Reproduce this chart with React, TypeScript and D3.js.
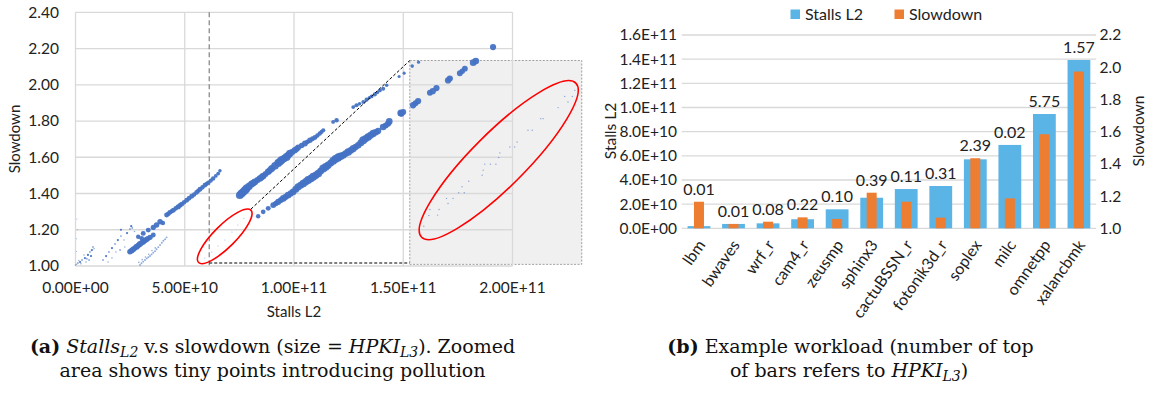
import React from "react";
import * as d3 from "d3";

// ---------- Left chart: Stalls L2 vs slowdown, bubble size = HPKI L3 ----------
// [stallsL2, slowdown, hpkiL3]
const originCluster: [number, number, number][] = [
  [0.0e10, 1.006, 0.1], [0.11e10, 1.017, 0.15], [0.21e10, 1.022, 0.2], [0.3e10, 1.033, 0.15],
  [0.43e10, 1.044, 0.2], [0.48e10, 1.022, 0.1], [0.57e10, 1.061, 0.2], [0.66e10, 1.077, 0.15],
  [0.75e10, 1.088, 0.2], [0.8e10, 1.105, 0.15], [0.39e10, 1.061, 0.1], [0.62e10, 1.033, 0.15],
  [0.71e10, 1.055, 0.2], [0.05e10, 1.01, 0.1], [0.25e10, 1.012, 0.1], [0.52e10, 1.04, 0.15],
  [0.85e10, 1.095, 0.1], [0.15e10, 1.03, 0.08], [0.05e10, 1.08, 0.02], [0.05e10, 1.15, 0.02],
  [0.08e10, 1.2, 0.02], [0.06e10, 1.26, 0.02],
];
const midScatter: [number, number, number][] = [
  [1.26e10, 1.033, 0.15], [1.4e10, 1.055, 0.2], [1.53e10, 1.077, 0.15], [1.67e10, 1.099, 0.2],
  [1.81e10, 1.121, 0.15], [1.94e10, 1.143, 0.2], [2.08e10, 1.165, 0.15], [2.22e10, 1.143, 0.1],
  [2.36e10, 1.182, 0.2], [2.49e10, 1.204, 0.15], [1.49e10, 1.022, 0.1], [1.67e10, 1.044, 0.1],
  [1.85e10, 1.077, 0.1], [2.04e10, 1.088, 0.15], [2.26e10, 1.105, 0.1], [2.6e10, 1.21, 0.15],
  [2.7e10, 1.19, 0.1], [2.08e10, 1.2, 0.2], [2.55e10, 1.22, 0.2],
];
const mediumBand: [number, number, number][] = [
  [2.49e10, 1.079, 1.2], [2.57e10, 1.085, 1.4], [2.64e10, 1.092, 1.4], [2.72e10, 1.099, 1.2],
  [2.8e10, 1.106, 1.5], [2.88e10, 1.114, 1.3], [2.95e10, 1.121, 1.5], [3.03e10, 1.128, 1.2],
  [3.1e10, 1.134, 1.4], [3.18e10, 1.141, 1.2], [3.26e10, 1.147, 1.3], [3.33e10, 1.152, 1.0],
  [3.41e10, 1.158, 1.2], [3.56e10, 1.171, 1.0], [2.87e10, 1.161, 0.8], [3.03e10, 1.153, 0.9],
  [3.1e10, 1.18, 1.0], [3.33e10, 1.198, 1.0], [3.56e10, 1.213, 1.1], [3.71e10, 1.226, 1.2],
  [3.87e10, 1.244, 1.2], [4.0e10, 1.237, 0.8],
];
const lightBand: [number, number, number][] = [
  [2.95e10, 1.006, 0.15], [3.02e10, 1.015, 0.15], [3.1e10, 1.024, 0.15], [3.18e10, 1.033, 0.15],
  [3.26e10, 1.042, 0.15], [3.33e10, 1.048, 0.15], [3.41e10, 1.055, 0.15], [3.48e10, 1.064, 0.15],
  [3.56e10, 1.073, 0.15], [3.64e10, 1.082, 0.15], [3.71e10, 1.092, 0.15], [3.79e10, 1.104, 0.15],
  [3.87e10, 1.116, 0.15], [3.95e10, 1.128, 0.15], [4.02e10, 1.139, 0.15], [4.1e10, 1.148, 0.15],
  [4.17e10, 1.158, 0.15], [2.9e10, 1.02, 0.1], [3.05e10, 1.035, 0.1], [3.2e10, 1.05, 0.1],
  [3.35e10, 1.065, 0.1], [3.5e10, 1.085, 0.1], [3.65e10, 1.1, 0.1],
];
const upperLeftBand: [number, number, number][] = [
  [4.17e10, 1.281, 1.0], [4.25e10, 1.288, 0.9], [4.32e10, 1.296, 1.0], [4.4e10, 1.302, 0.8],
  [4.48e10, 1.308, 1.0], [4.59e10, 1.318, 0.9], [4.7e10, 1.327, 1.1], [4.78e10, 1.334, 0.9],
  [4.86e10, 1.341, 1.0], [4.97e10, 1.352, 0.8], [5.09e10, 1.363, 1.0], [5.2e10, 1.374, 0.9],
  [5.32e10, 1.385, 1.0], [5.43e10, 1.395, 0.8], [5.54e10, 1.406, 0.9], [5.62e10, 1.415, 0.8],
  [5.7e10, 1.424, 1.0], [5.81e10, 1.435, 0.8], [5.92e10, 1.446, 0.9], [6.0e10, 1.453, 0.7],
  [6.08e10, 1.46, 0.8], [6.19e10, 1.471, 0.7], [6.3e10, 1.483, 0.8], [6.42e10, 1.497, 0.6],
  [6.53e10, 1.51, 0.6], [6.61e10, 1.525, 0.5],
];
const upperBand: [number, number, number][] = [
  [7.52e10, 1.391, 2.4], [7.6e10, 1.4, 2.6], [7.68e10, 1.409, 2.8], [7.76e10, 1.418, 2.6],
  [7.83e10, 1.428, 2.8], [7.95e10, 1.44, 2.2], [8.06e10, 1.452, 2.0], [8.14e10, 1.458, 1.8],
  [8.21e10, 1.464, 1.8], [8.33e10, 1.474, 1.6], [8.44e10, 1.483, 1.8], [8.52e10, 1.49, 1.6],
  [8.59e10, 1.496, 1.8], [8.7e10, 1.508, 1.5], [8.82e10, 1.52, 1.8], [8.9e10, 1.529, 1.6],
  [8.98e10, 1.538, 2.0], [9.13e10, 1.553, 2.4], [9.28e10, 1.569, 2.6], [9.36e10, 1.576, 2.4],
  [9.43e10, 1.584, 2.8], [9.55e10, 1.593, 2.2], [9.66e10, 1.602, 2.6], [9.74e10, 1.612, 2.0],
  [9.81e10, 1.621, 2.2], [9.93e10, 1.63, 1.6], [10.04e10, 1.639, 1.6], [10.12e10, 1.646, 1.4],
  [10.19e10, 1.654, 1.4], [10.35e10, 1.665, 1.2], [10.5e10, 1.676, 1.4], [10.62e10, 1.685, 1.0],
  [10.73e10, 1.694, 1.2], [10.85e10, 1.702, 1.0], [10.96e10, 1.709, 1.0], [11.07e10, 1.72, 0.8],
  [11.18e10, 1.731, 0.8], [11.26e10, 1.74, 0.7], [11.34e10, 1.749, 0.7],
  [11.79e10, 1.795, 0.6], [11.95e10, 1.804, 0.8], [12.71e10, 1.877, 0.6], [12.86e10, 1.887, 0.7],
  [13.0e10, 1.895, 0.5], [13.17e10, 1.905, 0.6], [13.32e10, 1.918, 0.7], [13.45e10, 1.928, 0.5],
  [13.55e10, 1.936, 0.6], [13.7e10, 1.947, 0.7], [13.82e10, 1.958, 0.5], [13.93e10, 1.969, 0.6],
  [14.08e10, 1.978, 0.7], [14.24e10, 1.997, 0.5], [14.81e10, 2.046, 0.4], [15.04e10, 2.064, 0.4],
  [15.41e10, 2.103, 0.5], [15.7e10, 2.125, 0.4],
];
const lowerBand: [number, number, number][] = [
  [8.36e10, 1.275, 0.8], [8.59e10, 1.299, 0.9], [8.82e10, 1.318, 1.0], [9.05e10, 1.336, 1.4],
  [9.17e10, 1.345, 1.2], [9.28e10, 1.354, 1.6], [9.4e10, 1.364, 1.4], [9.51e10, 1.373, 1.8],
  [9.62e10, 1.382, 1.6], [9.73e10, 1.391, 1.8], [9.85e10, 1.4, 1.6], [9.96e10, 1.409, 1.8],
  [10.08e10, 1.423, 2.0], [10.19e10, 1.437, 2.2], [10.3e10, 1.446, 2.0], [10.42e10, 1.455, 2.4],
  [10.54e10, 1.465, 2.2], [10.65e10, 1.474, 2.6], [10.77e10, 1.483, 2.4], [10.88e10, 1.492, 2.6],
  [11.0e10, 1.501, 2.2], [11.11e10, 1.51, 2.4], [11.22e10, 1.524, 2.0], [11.34e10, 1.538, 2.6],
  [11.45e10, 1.547, 2.4], [11.56e10, 1.556, 2.2], [11.68e10, 1.568, 2.0], [11.79e10, 1.58, 2.4],
  [11.9e10, 1.59, 2.6], [12.02e10, 1.599, 2.8], [12.13e10, 1.605, 2.4], [12.25e10, 1.611, 2.0],
  [12.36e10, 1.62, 1.8], [12.48e10, 1.629, 2.4], [12.6e10, 1.638, 1.8], [12.71e10, 1.648, 2.2],
  [12.82e10, 1.657, 1.6], [12.94e10, 1.666, 1.8], [13.06e10, 1.68, 2.0], [13.17e10, 1.694, 2.6],
  [13.28e10, 1.703, 2.2], [13.39e10, 1.712, 2.4], [13.5e10, 1.721, 2.0], [13.62e10, 1.731, 2.2],
  [13.74e10, 1.738, 1.8], [13.85e10, 1.745, 1.6], [14.08e10, 1.767, 1.8], [14.2e10, 1.776, 1.4],
  [14.31e10, 1.786, 1.6], [14.36e10, 1.798, 1.8], [14.89e10, 1.844, 2.0], [14.92e10, 1.841, 1.6],
  [15.0e10, 1.85, 1.4], [15.45e10, 1.887, 1.6], [15.56e10, 1.898, 1.4], [15.68e10, 1.91, 1.6],
  [16.22e10, 1.956, 1.4], [16.35e10, 1.965, 1.6], [16.52e10, 1.982, 1.6], [17.05e10, 2.024, 1.6],
  [17.13e10, 2.034, 1.6], [17.59e10, 2.064, 1.4], [17.7e10, 2.075, 1.2], [17.82e10, 2.089, 1.4],
  [18.2e10, 2.122, 1.8], [18.32e10, 2.131, 1.8], [19.11e10, 2.208, 1.57],
];
const zoomedTiny: [number, number, number][] = [
  [15.94e10, 1.22, 0.08], [16.17e10, 1.279, 0.08], [16.22e10, 1.312, 0.08], [16.57e10, 1.281, 0.08],
  [16.64e10, 1.312, 0.08], [16.98e10, 1.373, 0.08], [17.05e10, 1.345, 0.08], [17.28e10, 1.373, 0.08],
  [17.54e10, 1.404, 0.08], [17.79e10, 1.404, 0.08], [17.69e10, 1.437, 0.08], [18.0e10, 1.468, 0.08],
  [18.61e10, 1.501, 0.08], [18.66e10, 1.529, 0.08], [18.73e10, 1.562, 0.08], [18.99e10, 1.562, 0.08],
  [19.24e10, 1.562, 0.08], [19.37e10, 1.599, 0.08], [19.42e10, 1.624, 0.08], [19.88e10, 1.657, 0.08],
  [20.1e10, 1.657, 0.08], [20.21e10, 1.684, 0.08], [20.71e10, 1.749, 0.08], [20.9e10, 1.749, 0.08],
  [21.29e10, 1.813, 0.08], [21.4e10, 1.813, 0.08], [22.09e10, 1.874, 0.08], [22.39e10, 1.936, 0.08],
  [22.54e10, 1.905, 0.08], [22.74e10, 1.936, 0.08], [22.85e10, 1.969, 0.08],
];
const pollutionTiny: [number, number, number][] = [
  [5.92e10, 1.044, 0.02], [6.24e10, 1.077, 0.02], [6.52e10, 1.11, 0.02], [6.84e10, 1.143, 0.02],
  [7.16e10, 1.187, 0.02], [7.43e10, 1.226, 0.02], [7.71e10, 1.264, 0.02],
];
const scatterGroups = [
  originCluster, midScatter, mediumBand, lightBand, upperLeftBand,
  upperBand, lowerBand, zoomedTiny, pollutionTiny,
];

const scatterXTicks = [0, 5e10, 1e11, 1.5e11, 2e11];
const scatterYTicks = [1.0, 1.2, 1.4, 1.6, 1.8, 2.0, 2.2, 2.4];

// annotation anchors (data units)
const markerX = 6.12e10;
const zoomBoxX = [1.53e11, 2.317e11];
const zoomBoxY = [1.009, 2.134];
const smallEllipseCenter = [6.83e10, 1.1636];
const bigEllipseCenter = [1.937e11, 1.584];
const diagStart = [8.03e10, 1.314];
const horizY = 1.0165;

// ---------- Right chart: example workload ----------
const categories = [
  "lbm", "bwaves", "wrf_r", "cam4_r", "zeusmp", "sphinx3",
  "cactuBSSN_r", "fotonik3d_r", "soplex", "milc", "omnetpp", "xalancbmk",
];
const stallsL2 = [1.8e9, 3.6e9, 4.1e9, 7.5e9, 1.57e10, 2.53e10, 3.25e10, 3.5e10, 5.71e10, 6.9e10, 9.46e10, 1.393e11];
const slowdown = [1.165, 1.027, 1.041, 1.068, 1.058, 1.221, 1.165, 1.066, 1.435, 1.186, 1.584, 1.973];
const hpkiL3 = ["0.01", "0.01", "0.08", "0.22", "0.10", "0.39", "0.11", "0.31", "2.39", "0.02", "5.75", "1.57"];
const barLeftTicks = [0, 2e10, 4e10, 6e10, 8e10, 1e11, 1.2e11, 1.4e11, 1.6e11];
const barRightTicks = [1.0, 1.2, 1.4, 1.6, 1.8, 2.0, 2.2];

function sci(v: number, digits: number) {
  const [m, e] = v.toExponential(digits).split("e");
  const sign = e[0] === "-" ? "-" : "+";
  const ex = String(Math.abs(+e)).padStart(2, "0");
  return `${m}E${sign}${ex}`;
}

const BLUE = "#4472C4";
const BAR_BLUE = "#5BB4E6";
const ORANGE = "#ED7D31";
const GRID = "#d9d9d9";
const SANS = "Lato, 'Open Sans', sans-serif";
const SERIF = "'DejaVu Serif', serif";

export default function App() {
  // left scales
  const xS = d3.scaleLinear().domain([0, 2e11]).range([75.5, 512.5]);
  const yS = d3.scaleLinear().domain([1, 2.4]).range([266, 12.3]);
  const rS = d3.scaleSqrt().domain([0, 3]).range([0, 4.3]);

  // right scales
  const xB = d3.scaleBand<string>().domain(categories).range([681.7, 1096.2]).paddingInner(0.34).paddingOuter(0.17);
  const yL = d3.scaleLinear().domain([0, 1.6e11]).range([228.3, 35]);
  const yR = d3.scaleLinear().domain([1, 2.2]).range([228.3, 35]);
  const orangeW = 10;

  const points = scatterGroups.flat();

  const [sx0, sy0] = [xS(smallEllipseCenter[0]), yS(smallEllipseCenter[1])];
  const [bx0, by0] = [xS(bigEllipseCenter[0]), yS(bigEllipseCenter[1])];

  return (
    <svg width={1149} height={394} style={{ position: "absolute", left: 0, top: 0, background: "#fff" }}>
      {/* zoomed area box */}
      <rect
        x={xS(zoomBoxX[0])}
        y={yS(zoomBoxY[1])}
        width={xS(zoomBoxX[1]) - xS(zoomBoxX[0])}
        height={yS(zoomBoxY[0]) - yS(zoomBoxY[1])}
        fill="#f0f0f0"
        stroke="#a0a0a0"
        strokeWidth={1}
        strokeDasharray="2,1.5"
      />
      {/* left grid */}
      {scatterYTicks.map((t) => (
        <line key={"gy" + t} x1={xS(0)} x2={xS(2e11)} y1={yS(t)} y2={yS(t)} stroke={GRID} strokeWidth={1.3} />
      ))}
      {scatterXTicks.map((t) => (
        <line key={"gx" + t} x1={xS(t)} x2={xS(t)} y1={yS(1)} y2={yS(2.4)} stroke={GRID} strokeWidth={1.3} />
      ))}
      {/* left tick labels */}
      {scatterYTicks.map((t) => (
        <text key={"ty" + t} x={59} y={yS(t)} dy="0.35em" textAnchor="end" fontFamily={SANS} fontSize={15.5} fill="#222">
          {t.toFixed(2)}
        </text>
      ))}
      {scatterXTicks.map((t) => (
        <text key={"tx" + t} x={xS(t)} y={293} textAnchor="middle" fontFamily={SANS} fontSize={15.5} fill="#222">
          {sci(t, 2)}
        </text>
      ))}
      <text x={294} y={316.5} textAnchor="middle" fontFamily={SANS} fontSize={15} fill="#222">Stalls L2</text>
      <text transform={`translate(20,139) rotate(-90)`} textAnchor="middle" fontFamily={SANS} fontSize={15} fill="#222">Slowdown</text>

      {/* vertical marker */}
      <line x1={xS(markerX)} x2={xS(markerX)} y1={yS(2.4)} y2={yS(1) + 2} stroke="#808080" strokeWidth={1.2} strokeDasharray="5,3" />

      {/* bubbles */}
      {points.map((p, i) => {
        const r = Math.max(0.5, rS(p[2]));
        return (
          <circle key={i} cx={xS(p[0])} cy={yS(p[1])} r={r} fill={BLUE} fillOpacity={r < 1 ? 0.6 : 0.95} />
        );
      })}

      {/* zoom connector lines */}
      <line x1={xS(diagStart[0])} y1={yS(diagStart[1])} x2={xS(zoomBoxX[0])} y2={yS(zoomBoxY[1])} stroke="#000" strokeWidth={1} strokeDasharray="3,2" />
      <line x1={xS(markerX)} y1={yS(horizY)} x2={xS(zoomBoxX[0])} y2={yS(horizY)} stroke="#000" strokeWidth={1} strokeDasharray="3,2" />

      {/* ellipses */}
      <ellipse cx={sx0} cy={sy0} rx={37} ry={11} transform={`rotate(-45 ${sx0} ${sy0})`} fill="none" stroke="#ff0000" strokeWidth={1.6} />
      <ellipse cx={bx0} cy={by0} rx={109} ry={27} transform={`rotate(-45 ${bx0} ${by0})`} fill="none" stroke="#ff0000" strokeWidth={1.6} />

      {/* ---------- right chart ---------- */}
      {barLeftTicks.map((t) => (
        <line key={"bg" + t} x1={681.7} x2={1096.2} y1={yL(t)} y2={yL(t)} stroke={GRID} strokeWidth={1.3} />
      ))}
      {barLeftTicks.map((t) => (
        <text key={"bl" + t} x={677} y={yL(t)} dy="0.35em" textAnchor="end" fontFamily={SANS} fontSize={15.5} fill="#222">
          {sci(t, 1)}
        </text>
      ))}
      {barRightTicks.map((t) => (
        <text key={"br" + t} x={1099.5} y={yR(t)} dy="0.35em" textAnchor="start" fontFamily={SANS} fontSize={15.5} fill="#222">
          {t.toFixed(1)}
        </text>
      ))}
      <text transform={`translate(616,131) rotate(-90)`} textAnchor="middle" fontFamily={SANS} fontSize={15.5} fill="#222">Stalls L2</text>
      <text transform={`translate(1144,131) rotate(-90)`} textAnchor="middle" fontFamily={SANS} fontSize={15.5} fill="#222">Slowdown</text>

      {categories.map((c, i) => {
        const x = xB(c) as number;
        const bw = xB.bandwidth();
        const cx = x + bw / 2;
        const topB = yL(stallsL2[i]);
        const topO = yR(slowdown[i]);
        const top = Math.min(topB, topO);
        return (
          <g key={c}>
            <rect x={x} y={topB} width={bw} height={yL(0) - topB} fill={BAR_BLUE} />
            <rect x={cx - orangeW / 2} y={topO} width={orangeW} height={yR(1) - topO} fill={ORANGE} />
            <text x={cx} y={top - 7} textAnchor="middle" fontFamily={SANS} fontSize={16} fill="#222">
              {hpkiL3[i]}
            </text>
            <text transform={`translate(${cx + 7},245) rotate(-55)`} textAnchor="end" fontFamily={SANS} fontSize={16} fill="#222">
              {c}
            </text>
          </g>
        );
      })}

      {/* legend */}
      <rect x={790.5} y={9.5} width={9.5} height={9.5} fill={BAR_BLUE} />
      <text x={805} y={19.5} fontFamily={SANS} fontSize={16} fill="#222">Stalls L2</text>
      <rect x={894.5} y={9.5} width={9.5} height={9.5} fill={ORANGE} />
      <text x={909} y={19.5} fontFamily={SANS} fontSize={16} fill="#222">Slowdown</text>

      {/* captions */}
      <text x={272.5} y={353} textAnchor="middle" fontFamily={SERIF} fontSize={19} fill="#111">
        <tspan fontWeight="bold">(a)</tspan>
        <tspan> </tspan>
        <tspan fontStyle="italic">Stalls</tspan>
        <tspan fontStyle="italic" fontSize={14} dy={4}>L2</tspan>
        <tspan dy={-4}> v.s slowdown (size = </tspan>
        <tspan fontStyle="italic">HPKI</tspan>
        <tspan fontStyle="italic" fontSize={14} dy={4}>L3</tspan>
        <tspan dy={-4}>). Zoomed</tspan>
      </text>
      <text x={272.5} y={377} textAnchor="middle" fontFamily={SERIF} fontSize={19} fill="#111">
        area shows tiny points introducing pollution
      </text>
      <text x={850.5} y={353} textAnchor="middle" fontFamily={SERIF} fontSize={19} fill="#111">
        <tspan fontWeight="bold">(b)</tspan>
        <tspan> Example workload (number of top</tspan>
      </text>
      <text x={849} y={377} textAnchor="middle" fontFamily={SERIF} fontSize={19} fill="#111">
        <tspan>of bars refers to </tspan>
        <tspan fontStyle="italic">HPKI</tspan>
        <tspan fontStyle="italic" fontSize={14} dy={4}>L3</tspan>
        <tspan dy={-4}>)</tspan>
      </text>
    </svg>
  );
}
